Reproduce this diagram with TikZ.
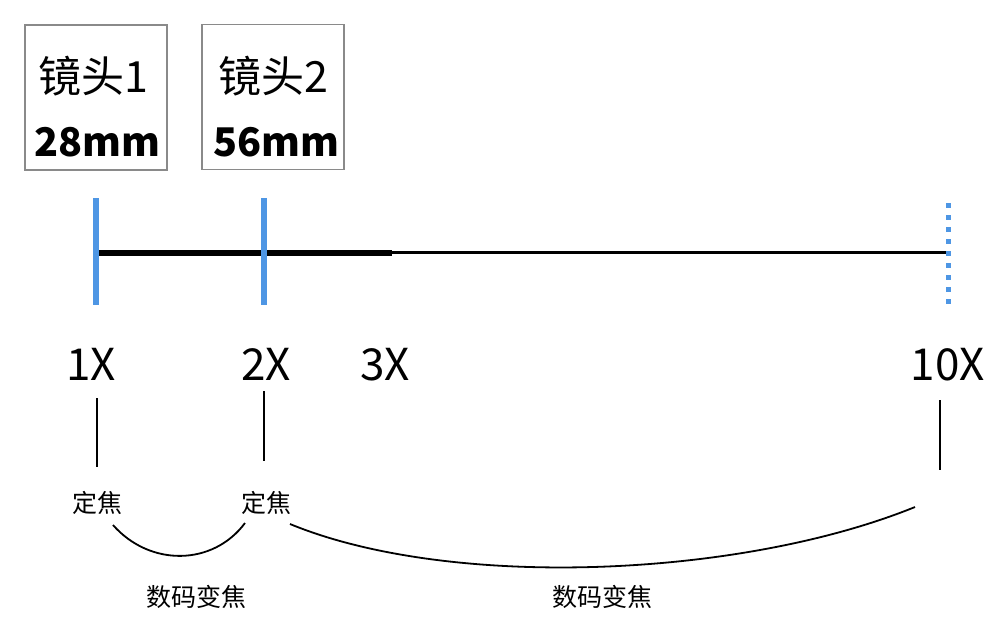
\documentclass[tikz,border=0pt]{standalone}
\usepackage{fontspec}
\setmainfont{Noto Sans CJK SC}
\definecolor{lensblue}{RGB}{78,150,228}
\definecolor{boxgray}{RGB}{138,138,138}
\begin{document}
\begin{tikzpicture}[x=1pt,y=-1pt,
  lensbox/.style={draw=boxgray,line width=1.5pt,minimum width=142pt,minimum height=145pt,inner sep=0pt},
  lenstick/.style={draw=lensblue,line width=5.5pt},
  lenstitle/.style={font=\fontsize{43}{46}\selectfont,anchor=base,inner sep=0pt},
  lensmm/.style={font=\fontsize{39.5}{44}\selectfont\bfseries,anchor=base,inner sep=0pt},
  zoomlbl/.style={font=\fontsize{44}{48}\selectfont,anchor=base,inner sep=0pt},
  fixlbl/.style={font=\fontsize{25}{28}\selectfont,inner sep=0pt},
  thinline/.style={line width=1.8pt}]
\useasboundingbox (0,0) rectangle (1000,625);
% boxes
\node[lensbox] (box1) at (96,97.5) {};
\node[lensbox] (box2) at (273,97) {};
\node[lenstitle] (n1) at (93,92) {镜头1};
\node[lensmm] (m1) at (97,156) {28mm};
\node[lenstitle] (n2) at (273,92) {镜头2};
\node[lensmm] (m2) at (276,156) {56mm};
% main scale
\coordinate (b1t) at (96,198); \coordinate (b1b) at (96,305); \coordinate (b1m) at (96,253);
\coordinate (b2t) at (264,198); \coordinate (b2b) at (264,305);
\coordinate (t3) at (392,253); \coordinate (t3b) at (392,252);
\coordinate (t10) at (946,252);
\coordinate (b10t) at (948,203); \coordinate (b10b) at (948,306);
\draw[line width=6.5pt] (b1m) -- (t3);
\draw[line width=3pt] (t3b) -- (t10);
\draw[lenstick] (b1t) -- (b1b);
\draw[lenstick] (b2t) -- (b2b);
\draw[draw=lensblue,line width=5pt,dash pattern=on 5pt off 7pt] (b10t) -- (b10b);
% zoom labels
\node[zoomlbl] (x1) at (91,380) {1X};
\node[zoomlbl] (x2) at (266,380) {2X};
\node[zoomlbl] (x3) at (385,380) {3X};
\node[zoomlbl] (x10) at (948,380) {10X};
% ticks
\coordinate (v1t) at (97,398); \coordinate (v1b) at (97,467);
\coordinate (v2t) at (264,391); \coordinate (v2b) at (264,461);
\coordinate (v3t) at (940,400); \coordinate (v3b) at (940,470);
\draw[thinline] (v1t) -- (v1b);
\draw[thinline] (v2t) -- (v2b);
\draw[thinline] (v3t) -- (v3b);
% fixed focal labels
\node[fixlbl] (d1) at (97,503) {定焦};
\node[fixlbl] (d2) at (266,503) {定焦};
% arcs
\coordinate (c1s) at (113,525); \coordinate (c1e) at (245,523);
\coordinate (c2s) at (290,524); \coordinate (c2e) at (915,507);
\draw[thinline] (c1s) .. controls (150,567) and (213,566) .. (c1e);
\draw[thinline] (c2s) .. controls (450,590) and (740,578) .. (c2e);
\node[fixlbl] (z1) at (196,597) {数码变焦};
\node[fixlbl] (z2) at (602,597) {数码变焦};
\end{tikzpicture}
\end{document}
